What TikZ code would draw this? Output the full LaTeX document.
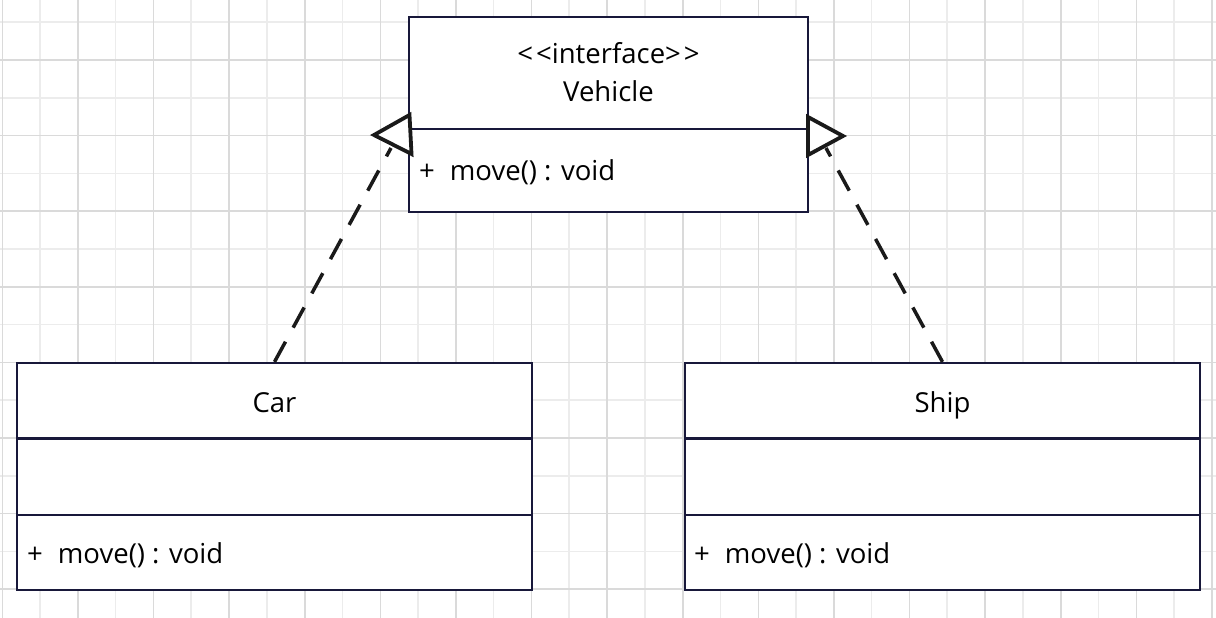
\documentclass[tikz,border=0pt]{standalone}
\usepackage{fontspec}
\setmainfont{Open Sans}
\definecolor{boxc}{RGB}{24,24,58}
\definecolor{arrc}{RGB}{26,26,26}
\definecolor{gridmaj}{RGB}{218,218,218}
\definecolor{gridmin}{RGB}{236,236,236}
\begin{document}
\begin{tikzpicture}[x=1pt,y=-1pt,
  classbox/.style={draw=boxc, line width=2.2pt, fill=white, inner sep=0pt},
  divider/.style={draw=boxc, line width=2.2pt},
  txt/.style={inner sep=0pt, font=\fontsize{27.5}{32}\selectfont, text=black},
  dep/.style={draw=arrc, line width=3.5pt, dash pattern=on 23pt off 16pt},
  tri/.style={draw=arrc, line width=3.8pt, fill=white, line join=miter},
  gmin/.style={draw=gridmin, line width=1.5pt},
  gmaj/.style={draw=gridmaj, line width=1.5pt}]
\useasboundingbox (0,0) rectangle (1216,618);
\fill[white] (0,0) rectangle (1216,618);
% grid
\foreach \k in {0,...,15} \draw[gmin] ({40+75.6*\k},0) -- ({40+75.6*\k},618);
\foreach \k in {0,...,7} \draw[gmin] (0,{22.2+75.6*\k}) -- (1216,{22.2+75.6*\k});
\foreach \k in {0,...,16} \draw[gmaj] ({2.4+75.6*\k},0) -- ({2.4+75.6*\k},618);
\foreach \k in {0,...,7} \draw[gmaj] (0,{60+75.6*\k}) -- (1216,{60+75.6*\k});
% class boxes
\node[classbox, minimum width=399pt, minimum height=195pt] (veh) at (608.5,114.5) {};
\node[classbox, minimum width=515pt, minimum height=227pt] (car) at (274.5,476.5) {};
\node[classbox, minimum width=515pt, minimum height=227pt] (ship) at (942.5,476.5) {};
\draw[divider] (409,129) -- (808,129);
\draw[divider] (17,438.5) -- (532,438.5);
\draw[divider] (17,515) -- (532,515);
\draw[divider] (685,438.5) -- (1200,438.5);
\draw[divider] (685,515) -- (1200,515);
% texts
\node[txt, anchor=base] (vster) at (608.5,64) {\textless\kern3pt\textless interface\textgreater\kern3pt\textgreater};
\node[txt, anchor=base] (vname) at (608.5,101) {Vehicle};
\node[txt, anchor=base west] (vmeth) at (419,180) {+\hspace{15pt}move() : void};
\node[txt, anchor=base] (cname) at (274.5,412) {Car};
\node[txt, anchor=base west] (cmeth) at (27,563) {+\hspace{15pt}move() : void};
\node[txt, anchor=base] (sname) at (942.5,412) {Ship};
\node[txt, anchor=base west] (smeth) at (694,563) {+\hspace{15pt}move() : void};
% realization connectors
\coordinate (cend) at (391,148);
\coordinate (send) at (826,148);
\coordinate (ltip) at (374,135);
\coordinate (lb1) at (409.5,115);
\coordinate (lb2) at (411.5,154);
\coordinate (rtip) at (843,136);
\coordinate (rb1) at (808,117);
\coordinate (rb2) at (808,155);
\draw[dep] (car.north) -- (cend);
\draw[dep] (ship.north) -- (send);
\draw[tri] (ltip) -- (lb1) -- (lb2) -- cycle;
\draw[tri] (rtip) -- (rb1) -- (rb2) -- cycle;
\end{tikzpicture}
\end{document}
